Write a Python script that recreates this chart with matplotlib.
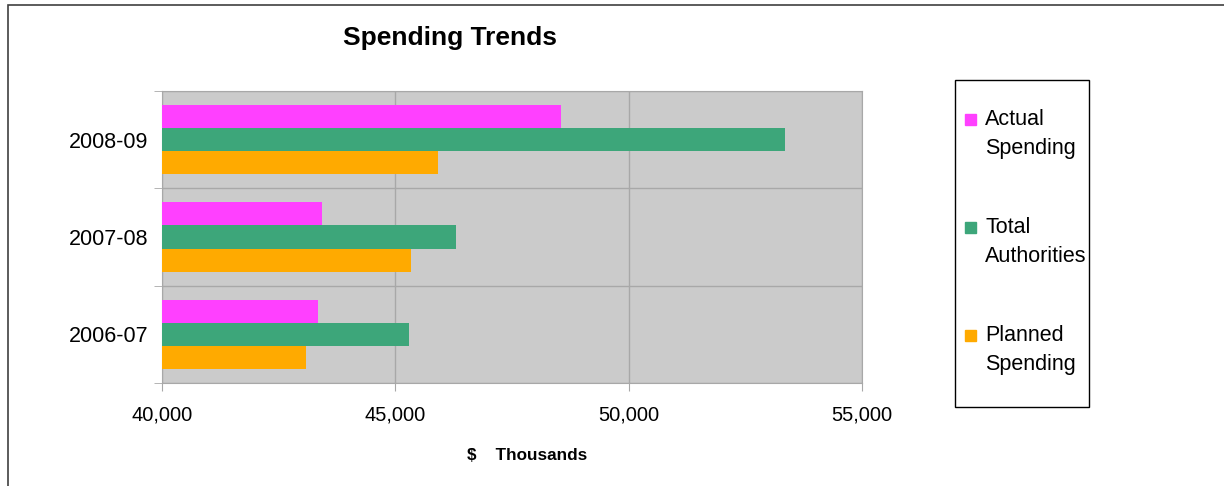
import numpy as np
import matplotlib
matplotlib.use('Agg')
import matplotlib.pyplot as plt
from matplotlib.patches import Rectangle

# ── data ──────────────────────────────────────────────────────────────────────
YEARS   = ['2006-07', '2007-08', '2008-09']
SERIES  = ['Actual\nSpending', 'Total\nAuthorities', 'Planned\nSpending']
ACTUAL  = [43340, 43430, 48550]
TOTAL   = [45290, 46300, 53350]
PLANNED = [43090, 45340, 45910]
COLORS  = ['#FF40FF', '#3DA67A', '#FFAA00']

plt.rcParams['font.family'] = ['Liberation Sans', 'DejaVu Sans']

fig = plt.figure(figsize=(12.24, 4.86), dpi=100)
ax = fig.add_axes([162 / 1224, 1 - 383 / 486, 700 / 1224, 292 / 486])

y = np.arange(len(YEARS))
h = 0.237
values = [ACTUAL, TOTAL, PLANNED]
for k, (vals, col) in enumerate(zip(values, COLORS)):
    ax.barh(y + (1 - k) * h, np.array(vals) - 40000, left=40000, height=h,
            color=col, zorder=3)

ax.set_facecolor('#CBCBCB')
ax.set_xlim(40000, 55000)
ax.set_ylim(-0.5, len(YEARS) - 0.5)
ax.set_xticks([40000, 45000, 50000, 55000])
ax.set_xticklabels(['40,000', '45,000', '50,000', '55,000'], fontsize=14.5)
ax.set_yticks(y)
ax.set_yticklabels(YEARS, fontsize=15.5)
ax.set_yticks(np.arange(-0.5, len(YEARS), 1), minor=True)
ax.tick_params(axis='y', which='major', length=0, pad=10)
ax.tick_params(axis='y', which='minor', length=6, color='#A8A8A8')
ax.tick_params(axis='x', length=6, color='#A8A8A8', pad=10)
ax.grid(True, which='major', axis='x', color='#A8A8A8', linewidth=1, zorder=1)
ax.grid(True, which='minor', axis='y', color='#A8A8A8', linewidth=1, zorder=1)
for s in ax.spines.values():
    s.set_color('#A8A8A8')
ax.set_xlabel('$    Thousands', fontsize=12.3, fontweight='bold')
ax.xaxis.set_label_coords((527 - 162) / 700, -(455 - 383) / 292)
ax.xaxis.label.set_va('center')

fig.text(450 / 1224, 1 - 38 / 486, 'Spending Trends', ha='center', va='center',
         fontsize=19, fontweight='bold')

# outer chart frame
fig.patches.append(Rectangle((8 / 1224, -0.05), 1.0, 1 - 5 / 486 + 0.05,
                             transform=fig.transFigure, fill=False,
                             edgecolor='#404040', linewidth=1.2))

# legend box
fig.patches.append(Rectangle((955 / 1224, 1 - 407 / 486), 134 / 1224, 327 / 486,
                             transform=fig.transFigure, fill=False,
                             edgecolor='black', linewidth=1))
for i, (lab, col) in enumerate(zip(SERIES, COLORS)):
    yc = 119 + i * 108
    fig.patches.append(Rectangle((965 / 1224, 1 - (yc + 6) / 486), 11 / 1224, 11 / 486,
                                 transform=fig.transFigure, color=col))
    fig.text(985 / 1224, 1 - (yc + 15) / 486, lab, ha='left', va='center',
             fontsize=15.5, linespacing=1.5)

fig.savefig('out.png', dpi=100)
